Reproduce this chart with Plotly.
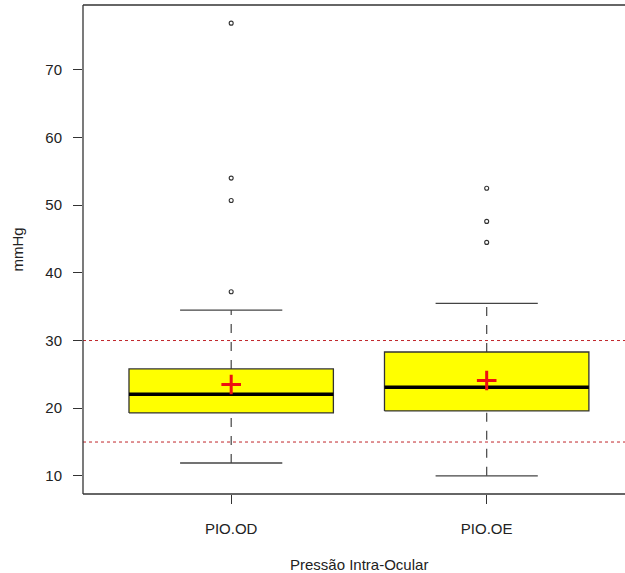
import plotly.graph_objects as go

categories = ["PIO.OD", "PIO.OE"]
positions = [1, 2]
q1 = [19.3, 19.6]
medians = [22.05, 23.1]
q3 = [25.8, 28.3]
lower_whisker = [11.9, 10.0]
upper_whisker = [34.5, 35.5]
means = [23.5, 24.1]
outliers = [[37.2, 50.7, 54.0, 76.9], [44.5, 47.6, 52.5]]
ref_lines = [15, 30]
y_ticks = [10, 20, 30, 40, 50, 60, 70]

BOX_HALF = 0.4
CAP_HALF = 0.2
X_RANGE = [0.42, 0.42 + (625 - 83) / 255.5]
Y_RANGE = [7.32, 79.58]
FONT = "Liberation Sans, Arial, sans-serif"

fig = go.Figure()

# reference lines
for v in ref_lines:
    fig.add_trace(go.Scatter(x=[X_RANGE[0], X_RANGE[1]], y=[v, v], mode="lines",
                             line=dict(color="#c0262b", width=1, dash="dot"),
                             hoverinfo="skip", showlegend=False))

for i, p in enumerate(positions):
    # whiskers (dashed)
    fig.add_trace(go.Scatter(x=[p, p], y=[q3[i], upper_whisker[i]], mode="lines",
                             line=dict(color="#444444", width=1.2, dash="dash"),
                             showlegend=False, hoverinfo="skip"))
    fig.add_trace(go.Scatter(x=[p, p], y=[lower_whisker[i], q1[i]], mode="lines",
                             line=dict(color="#444444", width=1.2, dash="dash"),
                             showlegend=False, hoverinfo="skip"))
    # caps
    for w in (lower_whisker[i], upper_whisker[i]):
        fig.add_trace(go.Scatter(x=[p - CAP_HALF, p + CAP_HALF], y=[w, w], mode="lines",
                                 line=dict(color="#444444", width=1.3),
                                 showlegend=False, hoverinfo="skip"))
    # box
    fig.add_trace(go.Scatter(
        x=[p - BOX_HALF, p + BOX_HALF, p + BOX_HALF, p - BOX_HALF, p - BOX_HALF],
        y=[q1[i], q1[i], q3[i], q3[i], q1[i]],
        mode="lines", fill="toself", fillcolor="#ffff00",
        line=dict(color="#333333", width=1.3), showlegend=False, hoverinfo="skip"))
    # median
    fig.add_trace(go.Scatter(x=[p - BOX_HALF, p + BOX_HALF], y=[medians[i], medians[i]],
                             mode="lines", line=dict(color="#000000", width=3.5),
                             showlegend=False, hoverinfo="skip"))
    # outliers
    fig.add_trace(go.Scatter(x=[p] * len(outliers[i]), y=outliers[i], mode="markers",
                             marker=dict(symbol="circle-open", size=4,
                                         color="#333333", line=dict(width=1.1)),
                             showlegend=False, hoverinfo="skip"))
    # mean
    fig.add_trace(go.Scatter(x=[p], y=[means[i]], mode="markers",
                             marker=dict(symbol="cross-thin-open", size=14,
                                         color="#ee1111", line=dict(width=3, color="#ee1111")),
                             showlegend=False, hoverinfo="skip"))

# frame (left, top, bottom)
fig.add_shape(type="line", xref="paper", yref="paper", x0=0, x1=0, y0=0, y1=1,
              line=dict(color="#333333", width=1.3))
fig.add_shape(type="line", xref="paper", yref="paper", x0=0, x1=1, y0=1, y1=1,
              line=dict(color="#333333", width=1.3))
fig.add_shape(type="line", xref="paper", yref="paper", x0=0, x1=1, y0=0, y1=0,
              line=dict(color="#333333", width=1.3))

fig.add_annotation(text="Pressão Intra-Ocular", xref="x", yref="paper",
                   x=1.5, y=(494 - 564) / 489, showarrow=False,
                   font=dict(family=FONT, size=15, color="#222222"),
                   xanchor="center", yanchor="middle")
fig.add_annotation(text="mmHg", xref="paper", yref="paper",
                   x=(17 - 83) / 542, y=0.5, textangle=-90, showarrow=False,
                   font=dict(family=FONT, size=15, color="#222222"),
                   xanchor="center", yanchor="middle")

fig.update_layout(
    width=625, height=573,
    margin=dict(l=83, r=0, t=5, b=79),
    paper_bgcolor="white", plot_bgcolor="white",
    showlegend=False,
    xaxis=dict(range=X_RANGE, tickvals=positions, ticktext=categories,
               showgrid=False, zeroline=False, showline=False,
               ticks="outside", ticklen=9, tickcolor="#333333", tickwidth=1.3,
               ticklabelstandoff=12,
               tickfont=dict(family=FONT, size=15, color="#222222")),
    yaxis=dict(range=Y_RANGE, tickvals=y_ticks,
               showgrid=False, zeroline=False, showline=False,
               ticks="outside", ticklen=9, tickcolor="#333333", tickwidth=1.3,
               ticklabelstandoff=8,
               tickfont=dict(family=FONT, size=15, color="#222222")),
)

fig.write_html("out.html", config={"displayModeBar": False},
               post_script="document.body.style.margin='0px';document.body.style.padding='0px';")
